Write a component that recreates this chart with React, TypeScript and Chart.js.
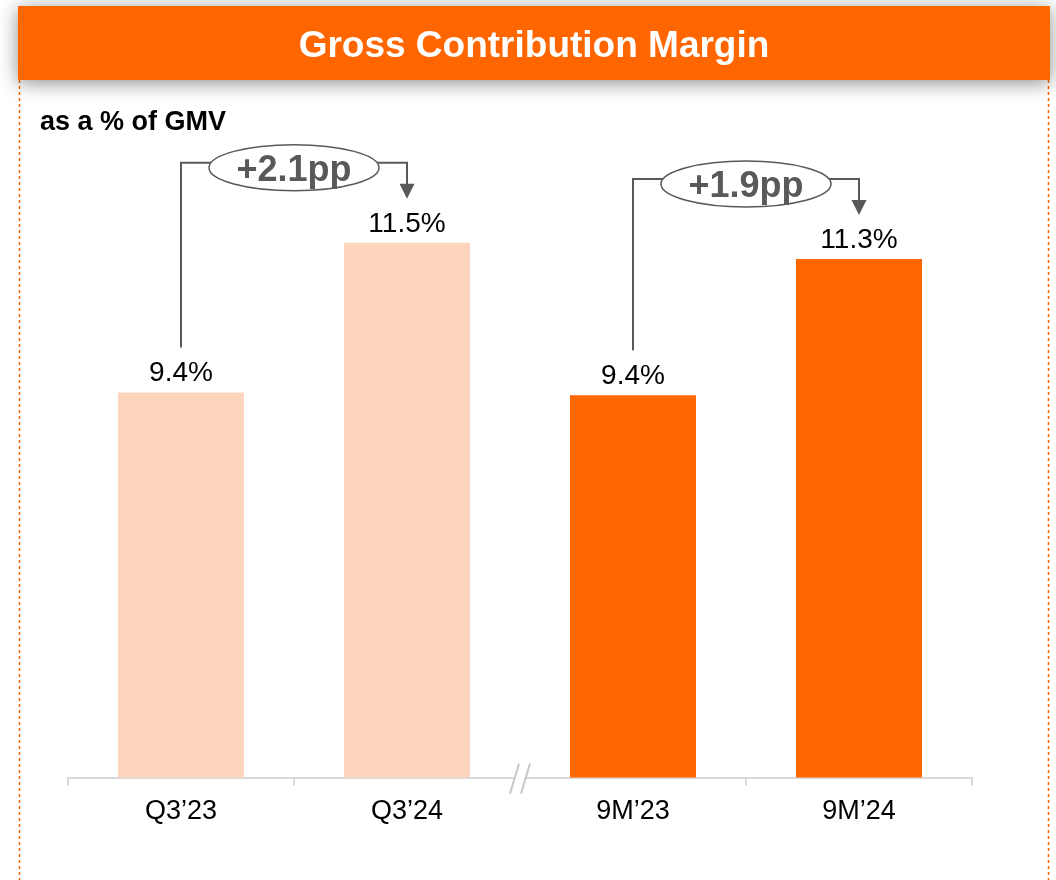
import React, { useEffect, useRef } from "react";
import { Chart, registerables } from "chart.js";

Chart.register(...registerables);

const FONT = "'Liberation Sans', Arial, Helvetica, sans-serif";

const TITLE = "Gross Contribution Margin";
const SUBTITLE = "as a % of GMV";
const CATEGORIES = ["Q3’23", "Q3’24", "9M’23", "9M’24"];
const MARGIN_PCT = [9.4, 11.5, 9.36, 11.27];
const BAR_COLORS = ["#FDD5BD", "#FDD5BD", "#FF6600", "#FF6600"];
const DELTA_LABELS = ["+2.1pp", "+1.9pp"];
const DELTA_PAIRS = [
  [0, 1],
  [2, 3],
];
const BREAK_AFTER_INDEX = 1;

const decorPlugin = {
  id: "decor",
  beforeDraw(chart: any) {
    const ctx = chart.ctx as CanvasRenderingContext2D;
    const W = chart.width;
    const H = chart.height;
    ctx.save();
    ctx.fillStyle = "#FFFFFF";
    ctx.fillRect(0, 0, W, H);

    // dotted side borders
    ctx.strokeStyle = "#FF6600";
    ctx.lineWidth = 1.5;
    ctx.setLineDash([3, 3]);
    ctx.beginPath();
    ctx.moveTo(19.5, 80);
    ctx.lineTo(19.5, H);
    ctx.moveTo(1048.5, 80);
    ctx.lineTo(1048.5, H);
    ctx.stroke();
    ctx.setLineDash([]);

    // header band with shadow
    ctx.shadowColor = "rgba(0,0,0,0.45)";
    ctx.shadowBlur = 18;
    ctx.shadowOffsetX = 0;
    ctx.shadowOffsetY = 3;
    ctx.fillStyle = "#FF6600";
    ctx.fillRect(18, 6, 1032, 74);
    ctx.shadowColor = "transparent";
    ctx.shadowBlur = 0;

    ctx.fillStyle = "#FFFFFF";
    ctx.font = `bold 37px ${FONT}`;
    ctx.textAlign = "center";
    ctx.textBaseline = "alphabetic";
    ctx.fillText(TITLE, 534, 57);

    // subtitle
    ctx.fillStyle = "#000000";
    ctx.font = `bold 27px ${FONT}`;
    ctx.textAlign = "left";
    ctx.fillText(SUBTITLE, 40, 130);
    ctx.restore();
  },
  afterDraw(chart: any) {
    const ctx = chart.ctx as CanvasRenderingContext2D;
    const meta = chart.getDatasetMeta(0);
    const xScale = chart.scales.x;
    ctx.save();

    // value labels
    ctx.fillStyle = "#000000";
    ctx.font = `28px ${FONT}`;
    ctx.textAlign = "center";
    ctx.textBaseline = "alphabetic";
    meta.data.forEach((bar: any, i: number) => {
      ctx.fillText(MARGIN_PCT[i].toFixed(1) + "%", bar.x, bar.y - 11);
    });

    // delta annotations
    const grey = "#595959";
    DELTA_PAIRS.forEach(([a, b], i) => {
      const A = meta.data[a];
      const B = meta.data[b];
      const topHigh = Math.min(A.y, B.y);
      const lineY = topHigh - 80;
      const cx = (A.x + B.x) / 2;
      const cy = lineY + 5;
      const rx = 85;
      const ry = 23;
      ctx.strokeStyle = grey;
      ctx.lineWidth = 2;
      ctx.beginPath();
      ctx.moveTo(A.x, A.y - 45);
      ctx.lineTo(A.x, lineY);
      ctx.lineTo(cx - rx + 2, lineY);
      ctx.stroke();
      const tipY = B.y - 44;
      const headH = 15;
      ctx.beginPath();
      ctx.moveTo(cx + rx - 2, lineY);
      ctx.lineTo(B.x, lineY);
      ctx.lineTo(B.x, tipY - headH + 1);
      ctx.stroke();
      ctx.fillStyle = grey;
      ctx.beginPath();
      ctx.moveTo(B.x - 7.5, tipY - headH);
      ctx.lineTo(B.x + 7.5, tipY - headH);
      ctx.lineTo(B.x, tipY);
      ctx.closePath();
      ctx.fill();

      ctx.fillStyle = "#FFFFFF";
      ctx.lineWidth = 1.5;
      ctx.beginPath();
      ctx.ellipse(cx, cy, rx, ry, 0, 0, Math.PI * 2);
      ctx.fill();
      ctx.stroke();

      ctx.fillStyle = grey;
      ctx.font = `bold 36px ${FONT}`;
      ctx.textAlign = "center";
      ctx.textBaseline = "alphabetic";
      ctx.fillText(DELTA_LABELS[i], cx, cy + 0.358 * 36);
    });

    // axis break
    const bx =
      (xScale.getPixelForTick(BREAK_AFTER_INDEX) + xScale.getPixelForTick(BREAK_AFTER_INDEX + 1)) / 2;
    const by = chart.chartArea.bottom;
    ctx.fillStyle = "#FFFFFF";
    ctx.fillRect(bx - 5, by - 2, 10, 4);
    ctx.strokeStyle = "#C8C8C8";
    ctx.lineWidth = 2;
    ctx.beginPath();
    ctx.moveTo(bx - 10, by + 16);
    ctx.lineTo(bx - 1, by - 14);
    ctx.moveTo(bx + 1, by + 16);
    ctx.lineTo(bx + 10, by - 14);
    ctx.stroke();
    ctx.restore();
  },
};

export default function App() {
  const canvasRef = useRef<HTMLCanvasElement | null>(null);

  useEffect(() => {
    const canvas = canvasRef.current;
    if (!canvas) return;
    const chart = new Chart(canvas, {
      type: "bar",
      data: {
        labels: CATEGORIES,
        datasets: [
          {
            data: MARGIN_PCT,
            backgroundColor: BAR_COLORS,
            borderWidth: 0,
            barPercentage: 0.5575,
            categoryPercentage: 1,
          },
        ],
      },
      options: {
        animation: false,
        responsive: false,
        maintainAspectRatio: false,
        devicePixelRatio: 1,
        layout: { padding: { left: 68, right: 84, top: 100, bottom: 42 } },
        plugins: {
          legend: { display: false },
          tooltip: { enabled: false },
          title: { display: false },
        },
        scales: {
          x: {
            grid: {
              display: true,
              drawOnChartArea: false,
              drawTicks: true,
              tickLength: 8,
              offset: true,
              lineWidth: 2,
              color: (c: any) => (c.index === BREAK_AFTER_INDEX + 1 ? "rgba(0,0,0,0)" : "#D9D9D9"),
            },
            border: { display: true, color: "#D9D9D9", width: 2 },
            ticks: {
              color: "#000000",
              font: { family: FONT, size: 27 },
              padding: 10,
              maxRotation: 0,
              autoSkip: false,
            },
          },
          y: { display: false, min: 4, max: 13.5 },
        },
      },
      plugins: [decorPlugin],
    } as any);
    return () => chart.destroy();
  }, []);

  return (
    <div style={{ position: "fixed", left: 0, top: 0, width: 1056, height: 880, background: "#fff" }}>
      <canvas ref={canvasRef} width={1056} height={880} style={{ width: 1056, height: 880, display: "block" }} />
    </div>
  );
}
